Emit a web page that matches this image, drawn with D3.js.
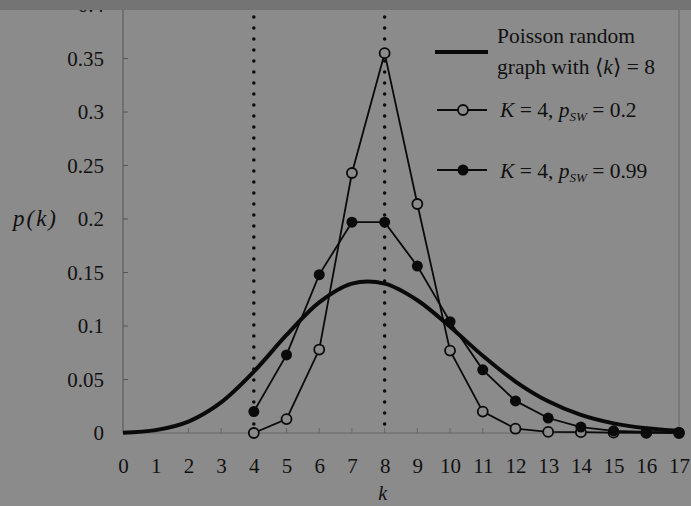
<!DOCTYPE html>
<html>
<head>
<meta charset="utf-8">
<script src="https://cdn.jsdelivr.net/npm/d3@7"></script>
<style>
  html, body { margin: 0; padding: 0; background: #8b8b8b; }
  svg { display: block; }
  text { font-family: "Liberation Serif", "DejaVu Serif", serif; fill: #111; }
</style>
</head>
<body>
<svg id="chart" width="691" height="506"></svg>
<script>
// Degree values k shown on the horizontal axis
const kValues = [0,1,2,3,4,5,6,7,8,9,10,11,12,13,14,15,16,17];
// Poisson random graph, <k> = 8
const poissonP = [0.0003,0.0027,0.0107,0.0286,0.0573,0.0916,0.1221,0.1396,0.1396,0.1241,0.0993,0.0722,0.0481,0.0296,0.0169,0.0090,0.0045,0.0021];
// Small-world degree distributions (defined from k = 4 upward)
const swK = [4,5,6,7,8,9,10,11,12,13,14,15,16,17];
const swLowP = [0,0.013,0.078,0.243,0.355,0.214,0.077,0.020,0.004,0.001,0.0008,0.0003,0.0001,0];
const swHighP = [0.020,0.073,0.148,0.197,0.197,0.156,0.104,0.059,0.030,0.014,0.0055,0.002,0.001,0.0005];
// Axis tick labels
const yTicks = [0,0.05,0.1,0.15,0.2,0.25,0.3,0.35,0.4];
const yTickLabels = ["0","0.05","0.1","0.15","0.2","0.25","0.3","0.35","0.4"];
const xTickLabels = kValues.map(String);
// Vertical reference lines
const refK = [4, 8];

const svg = d3.select("#chart");
const x = d3.scaleLinear().domain([0, 17]).range([123, 679]);
const y = d3.scaleLinear().domain([0, 0.4]).range([433, 5]);

const axisColor = "#555";
const bg = "#8b8b8b";

// Axes frame: left axis, bottom axis, right edge
svg.append("line").attr("x1", x(0)).attr("x2", x(0)).attr("y1", 0).attr("y2", y(0))
  .attr("stroke", axisColor).attr("stroke-width", 1);
svg.append("line").attr("x1", x(0)).attr("x2", x(17)).attr("y1", y(0)).attr("y2", y(0))
  .attr("stroke", "#666").attr("stroke-width", 1);
svg.append("line").attr("x1", x(17)).attr("x2", x(17)).attr("y1", 0).attr("y2", y(0))
  .attr("stroke", "#666").attr("stroke-width", 1);

// Y ticks and labels
const yAxis = d3.axisLeft(y).tickValues(yTicks).tickSize(0)
  .tickFormat((d, i) => yTickLabels[i]).tickPadding(19);
const gy = svg.append("g").attr("transform", `translate(${x(0)},0)`).call(yAxis);
gy.select(".domain").remove();
gy.selectAll("text").attr("font-family", "Liberation Serif").attr("font-size", 21).attr("fill", "#111");
svg.selectAll(".ytick").data(yTicks.slice(1)).enter().append("line")
  .attr("x1", x(0)).attr("x2", x(0) + 5).attr("y1", d => y(d)).attr("y2", d => y(d))
  .attr("stroke", axisColor).attr("stroke-width", 1);

// X ticks and labels
const xAxis = d3.axisBottom(x).tickValues(kValues).tickSize(0)
  .tickFormat((d, i) => xTickLabels[i]).tickPadding(25);
const gx = svg.append("g").attr("transform", `translate(0,${y(0)})`).call(xAxis);
gx.select(".domain").remove();
gx.selectAll("text").attr("font-family", "Liberation Serif").attr("font-size", 21).attr("fill", "#111");
svg.selectAll(".xtick").data(kValues.slice(1, 17)).enter().append("line")
  .attr("x1", d => x(d)).attr("x2", d => x(d)).attr("y1", y(0)).attr("y2", y(0) - 5)
  .attr("stroke", "#666").attr("stroke-width", 1);

// Axis titles
svg.append("text").attr("x", 13).attr("y", 226).attr("font-size", 23)
  .attr("letter-spacing", 2).attr("font-style", "italic").text("p(k)");
svg.append("text").attr("x", x(8) - 2).attr("y", 500).attr("text-anchor", "middle")
  .attr("font-size", 20).attr("font-style", "italic").text("k");

// Poisson curve
svg.append("path").datum(kValues.map((k, i) => [k, poissonP[i]]))
  .attr("fill", "none").attr("stroke", "#0a0a0a").attr("stroke-width", 4)
  .attr("d", d3.line().x(d => x(d[0])).y(d => y(d[1])).curve(d3.curveCatmullRom));

// Dotted reference lines at k = 4 and k = 8
svg.selectAll(".ref").data(refK).enter().append("line")
  .attr("x1", d => x(d)).attr("x2", d => x(d)).attr("y1", 17).attr("y2", y(0))
  .attr("stroke", "#0a0a0a").attr("stroke-width", 3.5)
  .attr("stroke-linecap", "round").attr("stroke-dasharray", "0 11");

const seriesLine = d3.line().x(d => x(d[0])).y(d => y(d[1]));
const lowPts = swK.map((k, i) => [k, swLowP[i]]);
const highPts = swK.map((k, i) => [k, swHighP[i]]);

svg.append("path").datum(lowPts).attr("fill", "none").attr("stroke", "#0a0a0a")
  .attr("stroke-width", 1.8).attr("d", seriesLine);
svg.append("path").datum(highPts).attr("fill", "none").attr("stroke", "#0a0a0a")
  .attr("stroke-width", 1.8).attr("d", seriesLine);

svg.selectAll(".lowpt").data(lowPts).enter().append("circle")
  .attr("cx", d => x(d[0])).attr("cy", d => y(d[1])).attr("r", 5)
  .attr("fill", bg).attr("stroke", "#0a0a0a").attr("stroke-width", 1.8);
svg.selectAll(".highpt").data(highPts).enter().append("circle")
  .attr("cx", d => x(d[0])).attr("cy", d => y(d[1])).attr("r", 5.5)
  .attr("fill", "#0a0a0a");

// Legend
const lg = svg.append("g");
lg.append("line").attr("x1", 435).attr("x2", 488).attr("y1", 52).attr("y2", 52)
  .attr("stroke", "#0a0a0a").attr("stroke-width", 4);
lg.append("text").attr("x", 497).attr("y", 43).attr("font-size", 21.5).text("Poisson random");
const t2 = lg.append("text").attr("x", 497).attr("y", 74).attr("font-size", 21.5);
t2.append("tspan").text("graph with ");
t2.append("tspan").text("\u27E8");
t2.append("tspan").attr("font-style", "italic").text("k");
t2.append("tspan").text("\u27E9 = 8");

lg.append("line").attr("x1", 437).attr("x2", 487).attr("y1", 110).attr("y2", 110)
  .attr("stroke", "#0a0a0a").attr("stroke-width", 1.8);
lg.append("circle").attr("cx", 463).attr("cy", 110).attr("r", 5)
  .attr("fill", bg).attr("stroke", "#0a0a0a").attr("stroke-width", 1.8);
const t3 = lg.append("text").attr("x", 500).attr("y", 117).attr("font-size", 21.5);
t3.append("tspan").attr("font-style", "italic").text("K");
t3.append("tspan").text(" = 4, ");
t3.append("tspan").attr("font-style", "italic").text("p");
t3.append("tspan").attr("font-style", "italic").attr("font-size", 13).attr("dy", 4).text("SW");
t3.append("tspan").attr("dy", -4).text(" = 0.2");

lg.append("line").attr("x1", 437).attr("x2", 487).attr("y1", 170).attr("y2", 170)
  .attr("stroke", "#0a0a0a").attr("stroke-width", 1.8);
lg.append("circle").attr("cx", 463).attr("cy", 170).attr("r", 5.5).attr("fill", "#0a0a0a");
const t4 = lg.append("text").attr("x", 500).attr("y", 178).attr("font-size", 21.5);
t4.append("tspan").attr("font-style", "italic").text("K");
t4.append("tspan").text(" = 4, ");
t4.append("tspan").attr("font-style", "italic").text("p");
t4.append("tspan").attr("font-style", "italic").attr("font-size", 13).attr("dy", 4).text("SW");
t4.append("tspan").attr("dy", -4).text(" = 0.99");

// Darker band across the top edge
svg.append("rect").attr("x", 0).attr("y", 0).attr("width", 691).attr("height", 10)
  .attr("fill", "#747474");
</script>
</body>
</html>
